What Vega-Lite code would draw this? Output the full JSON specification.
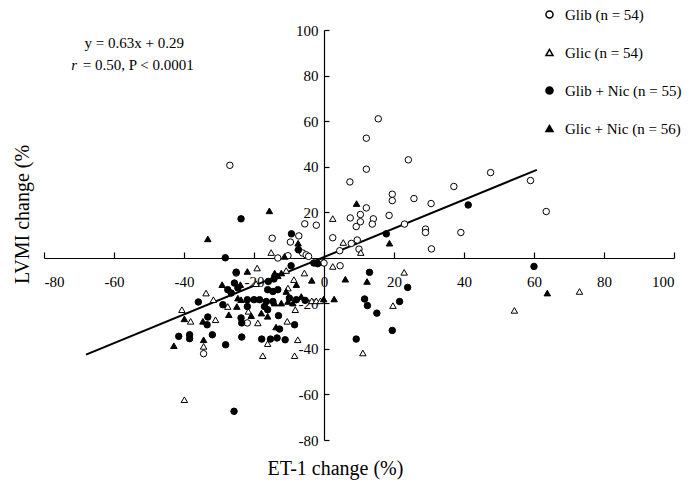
{
  "$schema": "https://vega.github.io/schema/vega-lite/v6.json",
  "width": 630,
  "height": 410,
  "autosize": "none",
  "padding": {"left": 44, "top": 30, "right": 24, "bottom": 44},
  "background": "white",
  "config": {
    "view": {"stroke": null},
    "font": "Liberation Serif",
    "style": {"guide-label": {"font": "Liberation Serif"}, "guide-title": {"font": "Liberation Serif"}},
    "axis": {
      "grid": false,
      "domainColor": "black",
      "tickColor": "black",
      "labelColor": "black",
      "titleColor": "black",
      "labelFont": "Liberation Serif",
      "titleFont": "Liberation Serif",
      "labelFontSize": 15,
      "titleFontSize": 20,
      "titleFontWeight": "normal",
      "domainWidth": 1.2,
      "tickWidth": 1.2
    },
    "legend": {
      "labelFont": "Liberation Serif"
    }
  },
  "datasets": {
    "fit": [{"x": -68, "y": -42.5}, {"x": 60.8, "y": 38.6}],
    "ann": [{"x": -68.4, "y": 94.2, "t": "y = 0.63x + 0.29"}, {"x": -68.9, "y": 84.6, "t": "= 0.50, P < 0.0001"}],
    "annr": [{"x": -72.2, "y": 84.6, "t": "r"}],
    "pts": [
      {"x":15.5,"y":61,"g":"Glib"},{"x":12.1,"y":52.5,"g":"Glib"},{"x":24.1,"y":43,"g":"Glib"},{"x":12.1,"y":38.9,"g":"Glib"},{"x":47.6,"y":37.4,"g":"Glib"},{"x":7.4,"y":33.3,"g":"Glib"},{"x":37.1,"y":31.3,"g":"Glib"},{"x":19.5,"y":27.9,"g":"Glib"},{"x":19.5,"y":25.1,"g":"Glib"},{"x":25.7,"y":26,"g":"Glib"},{"x":30.6,"y":23.8,"g":"Glib"},{"x":12.1,"y":21.9,"g":"Glib"},{"x":10.4,"y":19,"g":"Glib"},{"x":7.5,"y":17.5,"g":"Glib"},{"x":14.1,"y":17.1,"g":"Glib"},{"x":18.6,"y":18.6,"g":"Glib"},{"x":10.4,"y":15.8,"g":"Glib"},{"x":9.2,"y":13.7,"g":"Glib"},{"x":13.8,"y":14.8,"g":"Glib"},{"x":23,"y":14.8,"g":"Glib"},{"x":29,"y":12.6,"g":"Glib"},{"x":29,"y":11.1,"g":"Glib"},{"x":39.1,"y":11.1,"g":"Glib"},{"x":2.5,"y":8.8,"g":"Glib"},{"x":7.8,"y":6.3,"g":"Glib"},{"x":9.5,"y":7.8,"g":"Glib"},{"x":4.5,"y":3.1,"g":"Glib"},{"x":10,"y":3.8,"g":"Glib"},{"x":30.7,"y":3.9,"g":"Glib"},{"x":59,"y":33.9,"g":"Glib"},{"x":63.5,"y":20.3,"g":"Glib"},{"x":4.6,"y":-3.5,"g":"Glib"},{"x":-26.9,"y":40.6,"g":"Glib"},{"x":-5.5,"y":14.9,"g":"Glib"},{"x":-2.2,"y":14.3,"g":"Glib"},{"x":-14.8,"y":8.6,"g":"Glib"},{"x":-7.2,"y":9.6,"g":"Glib"},{"x":-9.6,"y":6.9,"g":"Glib"},{"x":-13.2,"y":-0.1,"g":"Glib"},{"x":-10.3,"y":0.9,"g":"Glib"},{"x":-6.1,"y":2.1,"g":"Glib"},{"x":-5.1,"y":1.3,"g":"Glib"},{"x":-4.4,"y":0.6,"g":"Glib"},{"x":-0.6,"y":-2,"g":"Glib"},{"x":0,"y":-2.3,"g":"Glib"},{"x":-25.1,"y":-6.7,"g":"Glib"},{"x":-34.4,"y":-42.1,"g":"Glib"},{"x":-21.9,"y":-28.6,"g":"Glib"},
      {"x":2.5,"y":17.2,"g":"Glic"},{"x":5.5,"y":6.7,"g":"Glic"},{"x":10.5,"y":2.3,"g":"Glic"},{"x":73,"y":-14.8,"g":"Glic"},{"x":54.4,"y":-23.1,"g":"Glic"},{"x":2.5,"y":-3.8,"g":"Glic"},{"x":22.9,"y":-6.4,"g":"Glic"},{"x":19.7,"y":-21,"g":"Glic"},{"x":11.1,"y":-41.8,"g":"Glic"},{"x":-39.9,"y":-62.3,"g":"Glic"},{"x":-15.1,"y":2.3,"g":"Glic"},{"x":-19.1,"y":-4.5,"g":"Glic"},{"x":-10.8,"y":-5.6,"g":"Glic"},{"x":-5.6,"y":-6.7,"g":"Glic"},{"x":-8.6,"y":-9.6,"g":"Glic"},{"x":-19.4,"y":-11.4,"g":"Glic"},{"x":-10.3,"y":-13.3,"g":"Glic"},{"x":-3.5,"y":-18.9,"g":"Glic"},{"x":-2.2,"y":-18.9,"g":"Glic"},{"x":-1,"y":-18.9,"g":"Glic"},{"x":-8.2,"y":-22.8,"g":"Glic"},{"x":-21.6,"y":-23.5,"g":"Glic"},{"x":-18.9,"y":-28.6,"g":"Glic"},{"x":-10.5,"y":-27.9,"g":"Glic"},{"x":-7.5,"y":-36,"g":"Glic"},{"x":-16.1,"y":-37.7,"g":"Glic"},{"x":-17.5,"y":-43,"g":"Glic"},{"x":-8.4,"y":-43,"g":"Glic"},{"x":-33.7,"y":-15.5,"g":"Glic"},{"x":-31.6,"y":-18.4,"g":"Glic"},{"x":-27.5,"y":-21.4,"g":"Glic"},{"x":-40.6,"y":-22.8,"g":"Glic"},{"x":-38.1,"y":-27.9,"g":"Glic"},{"x":-31,"y":-27.2,"g":"Glic"},{"x":-34.4,"y":-38.9,"g":"Glic"},
      {"x":17.8,"y":10.5,"g":"Glib + Nic"},{"x":41.2,"y":23.2,"g":"Glib + Nic"},{"x":60,"y":-3.8,"g":"Glib + Nic"},{"x":13,"y":-6.4,"g":"Glib + Nic"},{"x":23.9,"y":-13,"g":"Glib + Nic"},{"x":11.6,"y":-18.1,"g":"Glib + Nic"},{"x":12.4,"y":-21,"g":"Glib + Nic"},{"x":21.6,"y":-19.2,"g":"Glib + Nic"},{"x":15.1,"y":-24.3,"g":"Glib + Nic"},{"x":19.5,"y":-31.9,"g":"Glib + Nic"},{"x":9.2,"y":-35.7,"g":"Glib + Nic"},{"x":-25.7,"y":-67.4,"g":"Glib + Nic"},{"x":-23.7,"y":17.1,"g":"Glib + Nic"},{"x":-9.3,"y":10.5,"g":"Glib + Nic"},{"x":-28.2,"y":0,"g":"Glib + Nic"},{"x":-7.3,"y":3.5,"g":"Glib + Nic"},{"x":-2.9,"y":-2.3,"g":"Glib + Nic"},{"x":-1.8,"y":-2.6,"g":"Glib + Nic"},{"x":-9.4,"y":-3.5,"g":"Glib + Nic"},{"x":-25.1,"y":-6.3,"g":"Glib + Nic"},{"x":-15.9,"y":-10.4,"g":"Glib + Nic"},{"x":-14.3,"y":-9.3,"g":"Glib + Nic"},{"x":-25.6,"y":-11.1,"g":"Glib + Nic"},{"x":-24.6,"y":-13.3,"g":"Glib + Nic"},{"x":-16.1,"y":-14,"g":"Glib + Nic"},{"x":-14.6,"y":-14.8,"g":"Glib + Nic"},{"x":-13.2,"y":-14,"g":"Glib + Nic"},{"x":-21.9,"y":-18.4,"g":"Glib + Nic"},{"x":-20,"y":-18.4,"g":"Glib + Nic"},{"x":-18.4,"y":-18.4,"g":"Glib + Nic"},{"x":-16.5,"y":-19.2,"g":"Glib + Nic"},{"x":-14.6,"y":-19.2,"g":"Glib + Nic"},{"x":-9.9,"y":-17.7,"g":"Glib + Nic"},{"x":-7.9,"y":-18.4,"g":"Glib + Nic"},{"x":-5.4,"y":-18.7,"g":"Glib + Nic"},{"x":-21.9,"y":-21.4,"g":"Glib + Nic"},{"x":-17,"y":-21.4,"g":"Glib + Nic"},{"x":-16.1,"y":-22.8,"g":"Glib + Nic"},{"x":-13,"y":-25.4,"g":"Glib + Nic"},{"x":-23.7,"y":-26.4,"g":"Glib + Nic"},{"x":-23.5,"y":-28.6,"g":"Glib + Nic"},{"x":-12.7,"y":-31.3,"g":"Glib + Nic"},{"x":-8.4,"y":-29.4,"g":"Glib + Nic"},{"x":-23.5,"y":-34.8,"g":"Glib + Nic"},{"x":-17.8,"y":-35.7,"g":"Glib + Nic"},{"x":-15.3,"y":-35.7,"g":"Glib + Nic"},{"x":-13.4,"y":-35.2,"g":"Glib + Nic"},{"x":-11.1,"y":-36,"g":"Glib + Nic"},{"x":-27.5,"y":-14,"g":"Glib + Nic"},{"x":-26.5,"y":-15.5,"g":"Glib + Nic"},{"x":-35.9,"y":-19.4,"g":"Glib + Nic"},{"x":-28.9,"y":-20.6,"g":"Glib + Nic"},{"x":-33.2,"y":-26,"g":"Glib + Nic"},{"x":-33.4,"y":-29.4,"g":"Glib + Nic"},{"x":-31.9,"y":-33.8,"g":"Glib + Nic"},{"x":-41.5,"y":-34.5,"g":"Glib + Nic"},{"x":-38.4,"y":-33.8,"g":"Glib + Nic"},{"x":-38.4,"y":-35.5,"g":"Glib + Nic"},{"x":-28.1,"y":-38.2,"g":"Glib + Nic"},
      {"x":9.3,"y":23.8,"g":"Glic + Nic"},{"x":18.7,"y":6.4,"g":"Glic + Nic"},{"x":63.8,"y":-15.5,"g":"Glic + Nic"},{"x":6.1,"y":-9.4,"g":"Glic + Nic"},{"x":12.3,"y":-10.4,"g":"Glic + Nic"},{"x":-0.1,"y":-18.1,"g":"Glic + Nic"},{"x":2.9,"y":-18.1,"g":"Glic + Nic"},{"x":-15.6,"y":20.6,"g":"Glic + Nic"},{"x":-33.2,"y":8.3,"g":"Glic + Nic"},{"x":-7.4,"y":6.4,"g":"Glic + Nic"},{"x":-7.4,"y":4.5,"g":"Glic + Nic"},{"x":-11.3,"y":0.6,"g":"Glic + Nic"},{"x":-21.9,"y":-6,"g":"Glic + Nic"},{"x":-14.1,"y":-6.7,"g":"Glic + Nic"},{"x":-13.2,"y":-7.9,"g":"Glic + Nic"},{"x":-12.2,"y":-6.7,"g":"Glic + Nic"},{"x":-3.5,"y":-9.9,"g":"Glic + Nic"},{"x":-7.9,"y":-11.8,"g":"Glic + Nic"},{"x":-23.9,"y":-11.8,"g":"Glic + Nic"},{"x":-10.8,"y":-14.8,"g":"Glic + Nic"},{"x":-24.6,"y":-17.7,"g":"Glic + Nic"},{"x":-23.7,"y":-18.4,"g":"Glic + Nic"},{"x":-14.1,"y":-19.9,"g":"Glic + Nic"},{"x":-12.2,"y":-19.9,"g":"Glic + Nic"},{"x":-10.3,"y":-19.2,"g":"Glic + Nic"},{"x":-8.9,"y":-19.9,"g":"Glic + Nic"},{"x":-6.5,"y":-17,"g":"Glic + Nic"},{"x":-17.9,"y":-24.3,"g":"Glic + Nic"},{"x":-16.1,"y":-25.7,"g":"Glic + Nic"},{"x":-20.8,"y":-25.4,"g":"Glic + Nic"},{"x":-13.7,"y":-30.4,"g":"Glic + Nic"},{"x":-29.1,"y":-11.8,"g":"Glic + Nic"},{"x":-24.9,"y":-21.4,"g":"Glic + Nic"},{"x":-39.9,"y":-26.8,"g":"Glic + Nic"},{"x":-27.2,"y":-25,"g":"Glic + Nic"},{"x":-34.6,"y":-27.9,"g":"Glic + Nic"},{"x":-42.9,"y":-38.6,"g":"Glic + Nic"},{"x":-34.4,"y":-36,"g":"Glic + Nic"}
    ]
  },
  "layer": [
    {
      "data": {"name": "fit"},
      "mark": {"type": "line", "stroke": "black", "strokeWidth": 2},
      "encoding": {
        "x": {
          "field": "x", "type": "quantitative",
          "scale": {"domain": [-80, 100], "nice": false, "zero": false},
          "axis": {
            "title": "ET-1 change (%)",
            "values": [-80, -60, -40, -20, 0, 20, 40, 60, 80, 100],
            "labelExpr": "'' + datum.value",
            "offset": -182,
            "tickSize": -6,
            "labelPadding": 22,
            "labelFont": "Liberation Serif",
            "titleFont": "Liberation Serif",
            "titleX": 291,
            "titleY": 210,
            "titleBaseline": "middle",
            "titleAlign": "center",
            "encode": {"labels": {"update": {"font": {"value": "Liberation Serif"}}}}
          }
        },
        "y": {
          "field": "y", "type": "quantitative",
          "scale": {"domain": [-80, 100], "nice": false, "zero": false},
          "axis": {
            "title": "LVMI change (%",
            "values": [-80, -60, -40, -20, 0, 20, 40, 60, 80, 100],
            "labelExpr": "datum.value == 0 ? '' : '' + datum.value",
            "offset": -280,
            "tickSize": -5,
            "labelPadding": 11,
            "labelFont": "Liberation Serif",
            "titleFont": "Liberation Serif",
            "titleX": -302,
            "titleY": 184,
            "titleAngle": 270,
            "titleBaseline": "middle",
            "titleAlign": "center",
            "encode": {"labels": {"update": {"font": {"value": "Liberation Serif"}}}}
          }
        }
      }
    },
    {
      "data": {"name": "pts"},
      "mark": {"type": "point", "strokeWidth": 1, "opacity": 1, "size": 42},
      "encoding": {
        "x": {"field": "x", "type": "quantitative"},
        "y": {"field": "y", "type": "quantitative"},
        "shape": {
          "field": "g", "type": "nominal",
          "scale": {"domain": ["Glib", "Glic", "Glib + Nic", "Glic + Nic"], "range": ["circle", "triangle-up", "circle", "triangle-up"]},
          "legend": {
            "title": null,
            "orient": "none",
            "legendX": 498,
            "legendY": -23,
            "padding": 0,
            "rowPadding": 22,
            "labelFontSize": 15,
            "labelFont": "Liberation Serif",
            "labelColor": "black",
            "labelOffset": 8,
            "symbolSize": 50,
            "labelExpr": "datum.label == 'Glib' ? 'Glib (n = 54)' : datum.label == 'Glic' ? 'Glic (n = 54)' : datum.label == 'Glib + Nic' ? 'Glib + Nic (n = 55)' : 'Glic + Nic (n = 56)'"
          }
        },
        "fill": {
          "field": "g", "type": "nominal",
          "scale": {"domain": ["Glib", "Glic", "Glib + Nic", "Glic + Nic"], "range": ["white", "white", "black", "black"]},
          "legend": {
            "title": null,
            "orient": "none",
            "legendX": 498,
            "legendY": -23,
            "padding": 0,
            "rowPadding": 22,
            "labelFontSize": 15,
            "labelFont": "Liberation Serif",
            "labelColor": "black",
            "labelOffset": 8,
            "symbolSize": 50,
            "labelExpr": "datum.label == 'Glib' ? 'Glib (n = 54)' : datum.label == 'Glic' ? 'Glic (n = 54)' : datum.label == 'Glib + Nic' ? 'Glib + Nic (n = 55)' : 'Glic + Nic (n = 56)'"
          }
        },
        "stroke": {
          "field": "g", "type": "nominal",
          "scale": {"domain": ["Glib", "Glic", "Glib + Nic", "Glic + Nic"], "range": ["black", "black", "black", "black"]},
          "legend": {
            "title": null,
            "orient": "none",
            "legendX": 498,
            "legendY": -23,
            "padding": 0,
            "rowPadding": 22,
            "labelFontSize": 15,
            "labelFont": "Liberation Serif",
            "labelColor": "black",
            "labelOffset": 8,
            "symbolSize": 50,
            "labelExpr": "datum.label == 'Glib' ? 'Glib (n = 54)' : datum.label == 'Glic' ? 'Glic (n = 54)' : datum.label == 'Glib + Nic' ? 'Glib + Nic (n = 55)' : 'Glic + Nic (n = 56)'"
          }
        }
      }
    },
    {
      "data": {"name": "ann"},
      "mark": {"type": "text", "align": "left", "baseline": "middle", "fontSize": 15, "font": "Liberation Serif", "color": "black"},
      "encoding": {
        "x": {"field": "x", "type": "quantitative"},
        "y": {"field": "y", "type": "quantitative"},
        "text": {"field": "t"}
      }
    },
    {
      "data": {"name": "annr"},
      "mark": {"type": "text", "align": "left", "baseline": "middle", "fontSize": 15, "font": "Liberation Serif", "fontStyle": "italic", "color": "black"},
      "encoding": {
        "x": {"field": "x", "type": "quantitative"},
        "y": {"field": "y", "type": "quantitative"},
        "text": {"field": "t"}
      }
    }
  ]
}
